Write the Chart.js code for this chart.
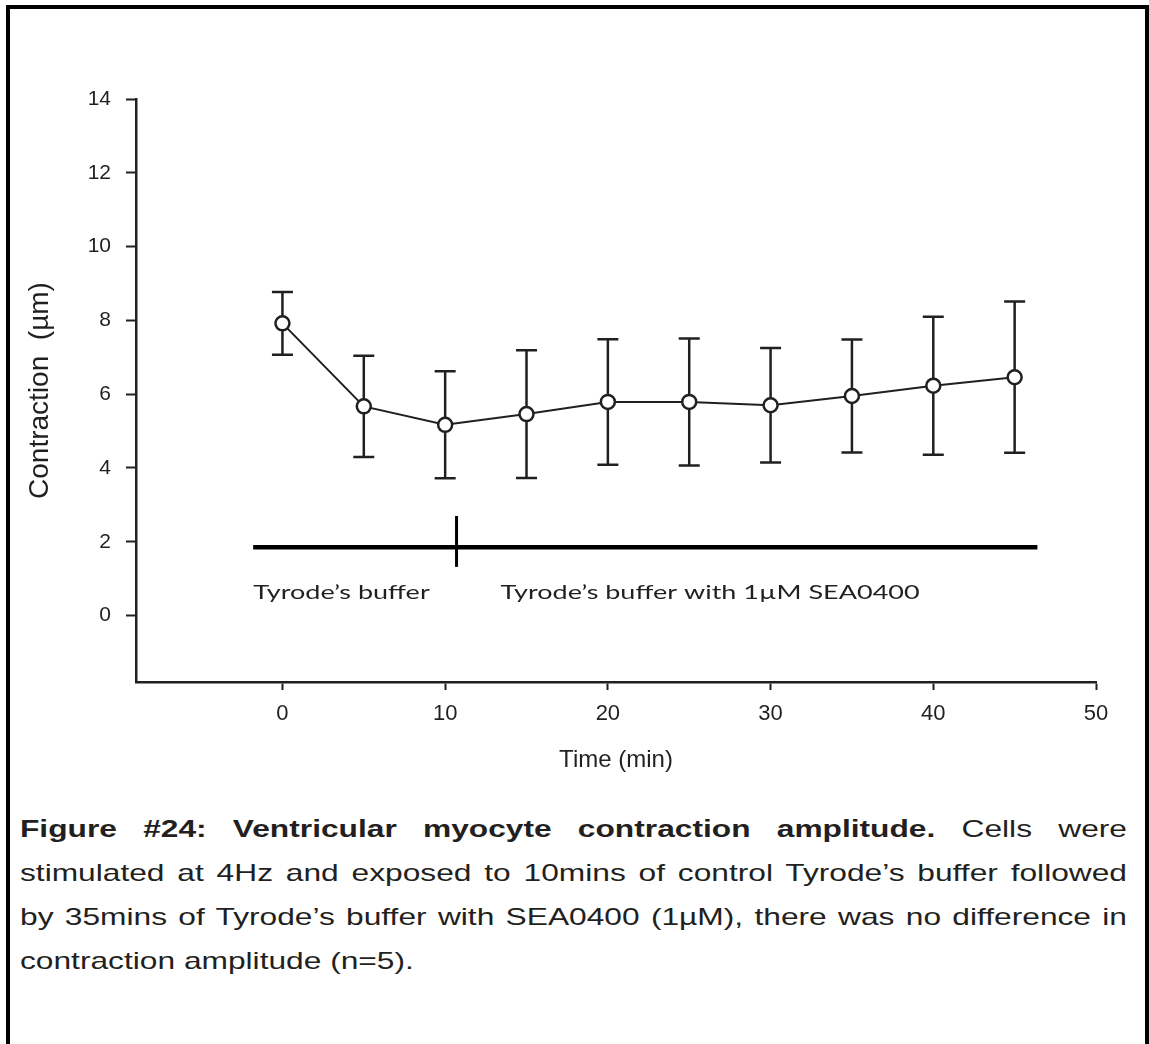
<!DOCTYPE html>
<html>
<head>
<meta charset="utf-8">
<script src="https://cdn.jsdelivr.net/npm/chart.js@4"></script>
<style>
  html, body { margin: 0; padding: 0; background: #fff; }
  #page { position: relative; width: 1149px; height: 1044px; overflow: hidden; }
  #frame { position: absolute; left: 6px; top: 5px; width: 1135px; height: 1100px; border: 4px solid #000; }
  #wrap { position: absolute; left: 0; top: 0; width: 1149px; height: 800px; }
  /* the figure text is horizontally stretched in the original */
  #caption { position: absolute; left: 20px; top: 807px; width: 838px;
    transform: scaleX(1.321); transform-origin: 0 0;
    font: 24px 'Liberation Sans', Arial, sans-serif; color: #231f20; line-height: 44px; }
  #caption div { text-align: justify; text-align-last: justify; white-space: nowrap; }
  #caption div.last { text-align-last: left; }
</style>
</head>
<body>
<div id="page">
  <div id="frame"></div>
  <div id="wrap"><canvas id="chart" width="1149" height="800"></canvas></div>
  <div id="caption">
    <div><b>Figure #24: Ventricular myocyte contraction amplitude.</b> Cells were</div>
    <div>stimulated at 4Hz and exposed to 10mins of control Tyrode’s buffer followed</div>
    <div>by 35mins of Tyrode’s buffer with SEA0400 (1µM), there was no difference in</div>
    <div class="last">contraction amplitude (n=5).</div>
  </div>
</div>
<script>
// ─── DATA ─────────────────────────────────────────────────────────────
const times = [0, 5, 10, 15, 20, 25, 30, 35, 40, 45];
const contraction = [7.92, 5.67, 5.17, 5.46, 5.79, 5.79, 5.70, 5.95, 6.23, 6.46];
const errors = [0.85, 1.37, 1.45, 1.73, 1.70, 1.72, 1.55, 1.53, 1.87, 2.05];
const xTicks = [0, 10, 20, 30, 40, 50];
const yTicks = [0, 2, 4, 6, 8, 10, 12, 14];

// treatment bar under the curve
const bufferLineX = [-1.8, 46.4];
const bufferLineY = 1.85;
const switchTime = 10.7;
const switchRange = [1.32, 2.7];
const phaseLabels = ['Tyrode’s buffer', 'Tyrode’s buffer with 1µM SEA0400'];
const phaseLabelX = [-1.8, 13.4];
const phaseLabelY = 0.63;

const INK = '#231f20';
const FONT = '"Liberation Sans", Arial, sans-serif';

// ─── PLUGINS ──────────────────────────────────────────────────────────
const errorBars = {
  id: 'errorBars',
  beforeDatasetsDraw(chart) {
    const { ctx, scales: { x, y } } = chart;
    ctx.save();
    ctx.strokeStyle = INK;
    ctx.lineWidth = 2.5;
    times.forEach((t, i) => {
      const px = x.getPixelForValue(t);
      const top = y.getPixelForValue(contraction[i] + errors[i]);
      const bot = y.getPixelForValue(contraction[i] - errors[i]);
      ctx.beginPath();
      ctx.moveTo(px, top); ctx.lineTo(px, bot);
      ctx.moveTo(px - 10.5, top); ctx.lineTo(px + 10.5, top);
      ctx.moveTo(px - 10.5, bot); ctx.lineTo(px + 10.5, bot);
      ctx.stroke();
    });
    ctx.restore();
  },
};

const phaseText = {
  id: 'phaseText',
  afterDatasetsDraw(chart) {
    const { ctx, scales: { x, y } } = chart;
    const stretch = 1.35;
    ctx.save();
    ctx.fillStyle = INK;
    ctx.font = '20px Lato, "Open Sans", sans-serif';
    ctx.textBaseline = 'middle';
    ctx.textAlign = 'left';
    phaseLabels.forEach((txt, i) => {
      const px = x.getPixelForValue(phaseLabelX[i]);
      const py = y.getPixelForValue(phaseLabelY);
      ctx.save();
      ctx.translate(px, py);
      ctx.scale(stretch, 1);
      ctx.fillText(txt, 0, 0);
      ctx.restore();
    });
    ctx.restore();
  },
};

// ─── CHART ────────────────────────────────────────────────────────────
new Chart(document.getElementById('chart'), {
  type: 'scatter',
  data: {
    datasets: [
      {
        data: times.map((t, i) => ({ x: t, y: contraction[i] })),
        showLine: true,
        borderColor: INK,
        borderWidth: 2,
        pointRadius: 7,
        pointBorderWidth: 2.5,
        pointBackgroundColor: '#fff',
        pointBorderColor: INK,
        order: 0,
      },
      {
        data: bufferLineX.map(v => ({ x: v, y: bufferLineY })),
        showLine: true,
        borderColor: '#000',
        borderWidth: 4.5,
        pointRadius: 0,
        order: 2,
      },
      {
        data: switchRange.map(v => ({ x: switchTime, y: v })),
        showLine: true,
        borderColor: '#000',
        borderWidth: 3,
        pointRadius: 0,
        order: 1,
      },
    ],
  },
  options: {
    responsive: false,
    animation: false,
    layout: { padding: { left: 0, top: 99, right: 53, bottom: 18 } },
    plugins: { legend: { display: false }, tooltip: { enabled: false } },
    scales: {
      x: {
        type: 'linear',
        min: -9, max: 50,
        afterBuildTicks: s => { s.ticks = xTicks.map(v => ({ value: v })); },
        afterFit: s => { s.height = 100; },
        border: { display: true, color: INK, width: 2.5 },
        grid: { drawOnChartArea: false, tickLength: 8, tickColor: INK, tickWidth: 2 },
        ticks: { color: INK, padding: 11, maxRotation: 0, font: { family: FONT, size: 22 } },
        title: {
          display: true, text: 'Time (min)', color: INK,
          font: { family: FONT, size: 24 },
          padding: { top: 0, bottom: 7 },
        },
      },
      y: {
        type: 'linear',
        min: -1.8, max: 14,
        afterBuildTicks: s => { s.ticks = yTicks.map(v => ({ value: v })); },
        afterFit: s => { s.width = 136; },
        border: { display: true, color: INK, width: 2.5 },
        grid: { drawOnChartArea: false, tickLength: 10, tickColor: INK, tickWidth: 2 },
        ticks: { color: INK, padding: 15, font: { family: FONT, size: 21 } },
        title: {
          display: true, text: 'Contraction  (µm)', color: INK,
          font: { family: FONT, size: 28 },
          padding: { top: 23, bottom: 0 },
        },
      },
    },
  },
  plugins: [errorBars, phaseText],
});
</script>
</body>
</html>
